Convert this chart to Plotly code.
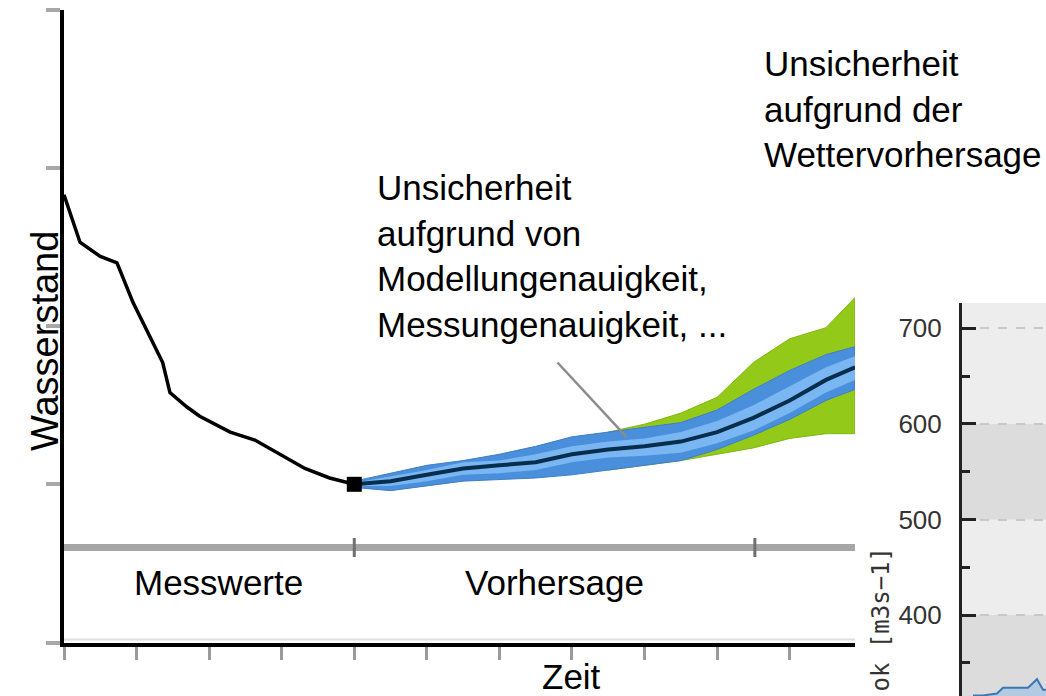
import plotly.graph_objects as go

W, H = 1046, 696

# measured water level (Messwerte), time in ticks, level in axis units
obs_t = [0.0, 0.22, 0.50, 0.73, 0.95, 1.18, 1.36, 1.46, 1.69, 1.87, 2.29, 2.63, 2.98, 3.32, 3.66, 4.0]
obs_level = [2.83, 2.53, 2.44, 2.40, 2.15, 1.93, 1.77, 1.58, 1.49, 1.43, 1.33, 1.28, 1.19, 1.10, 1.04, 1.00]

# forecast (Vorhersage)
fc_t = [4.0, 4.5, 5.0, 5.5, 6.0, 6.5, 7.0, 7.5, 8.0, 8.5, 9.0, 9.5, 10.0, 10.5, 10.9]
fc_median = [1.00, 1.02, 1.06, 1.10, 1.12, 1.14, 1.19, 1.22, 1.24, 1.27, 1.33, 1.42, 1.53, 1.66, 1.74]
model_hi = [1.02, 1.07, 1.12, 1.15, 1.19, 1.24, 1.30, 1.33, 1.36, 1.39, 1.47, 1.60, 1.72, 1.82, 1.87]
model_lo = [0.98, 0.96, 0.99, 1.02, 1.03, 1.04, 1.06, 1.09, 1.12, 1.15, 1.22, 1.31, 1.41, 1.53, 1.60]
inner_hi = [1.01, 1.05, 1.09, 1.14, 1.15, 1.19, 1.24, 1.27, 1.29, 1.33, 1.40, 1.50, 1.62, 1.74, 1.81]
inner_lo = [0.99, 0.99, 1.02, 1.06, 1.07, 1.09, 1.14, 1.17, 1.18, 1.20, 1.26, 1.34, 1.45, 1.58, 1.66]

# weather forecast uncertainty
wx_t = [7.5, 8.0, 8.5, 9.0, 9.5, 10.0, 10.5, 10.9]
wx_hi = [1.33, 1.38, 1.45, 1.55, 1.77, 1.92, 1.99, 2.18]
wx_lo = [1.09, 1.12, 1.15, 1.19, 1.23, 1.29, 1.32, 1.32]

pointer_t = [6.80, 7.75]
pointer_level = [1.77, 1.30]

x_ticks = [0, 1, 2, 3, 4, 5, 6, 7, 8, 9, 10]
y_ticks = [0, 1, 2, 3, 4]
phase_marks = [4.0, 9.52]
timeline_level = 0.6

# inset hydrograph
ins_t = [11, 21, 35, 41, 55, 66, 75, 81, 84]
ins_q = [316, 316, 318, 324, 324, 324, 333, 322, 322]
ins_ticks = [400, 500, 600, 700]
ins_minor = [350, 450, 550, 650]
ins_dark_bands = [(500, 600), (300, 400)]


def px(x, y):
    return x / W, 1 - y / H


def band(t, hi, lo):
    return t + t[::-1], hi + lo[::-1]


fig = go.Figure()

bx, by = band(wx_t, wx_hi, wx_lo)
fig.add_trace(go.Scatter(x=bx, y=by, fill="toself", fillcolor="#93c918", mode="lines",
                         line=dict(width=1, color="#7fb80e"), hoverinfo="skip"))
bx, by = band(fc_t, model_hi, model_lo)
fig.add_trace(go.Scatter(x=bx, y=by, fill="toself", fillcolor="#4a8fdc", mode="lines",
                         line=dict(width=1, color="#3f7fc4"), hoverinfo="skip"))
bx, by = band(fc_t, inner_hi, inner_lo)
fig.add_trace(go.Scatter(x=bx, y=by, fill="toself", fillcolor="#79b6f2", mode="lines",
                         line=dict(width=0), hoverinfo="skip"))
fig.add_trace(go.Scatter(x=fc_t, y=fc_median, mode="lines", line=dict(color="#082e4e", width=4)))
fig.add_trace(go.Scatter(x=obs_t, y=obs_level, mode="lines", line=dict(color="#000000", width=3.5)))
fig.add_trace(go.Scatter(x=obs_t[-1:], y=obs_level[-1:], mode="markers",
                         marker=dict(symbol="square", size=15, color="#000000")))
fig.add_trace(go.Scatter(x=pointer_t, y=pointer_level, mode="lines", line=dict(color="#8c8c8c", width=2.5)))

# inset
fig.add_trace(go.Scatter(x=ins_t, y=ins_q, mode="lines", fill="tozeroy", fillcolor="rgba(150,190,230,0.6)",
                         line=dict(color="#3a78b5", width=2), xaxis="x2", yaxis="y2"))

shapes = [
    dict(type="line", xref="x domain", yref="y", x0=0, x1=1, y0=timeline_level, y1=timeline_level,
         line=dict(color="#a6a6a6", width=7), layer="below"),
    dict(type="line", xref="x domain", yref="paper", x0=0, x1=1, y0=px(0, 639.5)[1], y1=px(0, 639.5)[1],
         line=dict(color="#e0e0e0", width=2), layer="below"),
]
for m in phase_marks:
    shapes.append(dict(type="line", xref="x", yref="y", x0=m, x1=m, y0=timeline_level - 0.06,
                       y1=timeline_level + 0.06, line=dict(color="#707070", width=3)))
shapes.append(dict(type="rect", xref="x2 domain", yref="y2 domain", x0=0, x1=1, y0=0, y1=1,
                   fillcolor="#ededed", line=dict(width=0), layer="below"))
for lo, hi in ins_dark_bands:
    shapes.append(dict(type="rect", xref="x2 domain", yref="y2", x0=0, x1=1, y0=lo, y1=hi,
                       fillcolor="#dcdcdc", line=dict(width=0), layer="below"))

txt = dict(family="Liberation Sans, Arial, sans-serif", size=35, color="#000000")
annotations = [
    dict(xref="paper", yref="paper", x=px(375, 0)[0], y=px(0, 256)[1], xanchor="left", yanchor="middle",
         align="left", showarrow=False, font=txt,
         text="Unsicherheit<br>aufgrund von<br>Modellungenauigkeit,<br>Messungenauigkeit, ..."),
    dict(xref="paper", yref="paper", x=px(762, 0)[0], y=px(0, 109)[1], xanchor="left", yanchor="middle",
         align="left", showarrow=False, font=txt,
         text="Unsicherheit<br>aufgrund der<br>Wettervorhersage"),
    dict(xref="x", yref="y", x=2.13, y=0.38, showarrow=False, font=txt, text="Messwerte"),
    dict(xref="x", yref="y", x=6.76, y=0.38, showarrow=False, font=txt, text="Vorhersage"),
    dict(xref="x", yref="paper", x=7.0, y=px(0, 676)[1], yanchor="middle", showarrow=False, font=txt,
         text="Zeit"),
    dict(xref="paper", yref="paper", x=px(22, 0)[0], y=px(0, 341)[1], textangle=-90, showarrow=False,
         font=dict(family="Liberation Sans, Arial, sans-serif", size=38, color="#000000"), text="Wasserstand"),
    dict(xref="paper", yref="paper", x=px(880, 0)[0], y=px(0, 545)[1], xanchor="center", yanchor="top",
         textangle=-90, showarrow=False, font=dict(family="DejaVu Sans Mono, monospace", size=24, color="#333333"),
         text="ok [m3s−1]"),
]

fig.update_layout(
    width=W, height=H, margin=dict(l=0, r=0, t=0, b=0),
    paper_bgcolor="#ffffff", plot_bgcolor="rgba(0,0,0,0)", showlegend=False,
    shapes=shapes, annotations=annotations,
    xaxis=dict(domain=[64 / W, 855 / W], range=[0, 10.9], tickvals=x_ticks, showticklabels=False,
               ticks="outside", ticklen=13, tickwidth=3, tickcolor="#9a9a9a",
               showline=True, linecolor="#000000", linewidth=4, showgrid=False, zeroline=False,
               fixedrange=True),
    yaxis=dict(domain=[1 - 642.5 / H, 1 - 9.7 / H], range=[0, 4], tickvals=y_ticks, showticklabels=False,
               ticks="outside", ticklen=14, tickwidth=4, tickcolor="#a8a8a8",
               showline=True, linecolor="#000000", linewidth=4, showgrid=False, zeroline=False,
               fixedrange=True),
    xaxis2=dict(domain=[962 / W, 1], range=[0, 84], anchor="y2", visible=False),
    yaxis2=dict(domain=[0, 1 - 303 / H], range=[315.4, 726.5], anchor="x2",
                tickvals=ins_ticks, ticks="inside", ticklen=14, tickwidth=3, tickcolor="#222222",
                minor=dict(tickvals=ins_minor, ticks="inside", ticklen=8, tickwidth=3, tickcolor="#222222"),
                showline=True, linecolor="#222222", linewidth=3, zeroline=False,
                showgrid=True, gridcolor="#c8c8c8", griddash="dash", gridwidth=2,
                tickfont=dict(family="Liberation Sans, Arial, sans-serif", size=26, color="#333333"),
                ticklabelstandoff=12),
)

fig.write_html("out.html", config={"displayModeBar": False},
               post_script="document.body.style.margin='0px';")
